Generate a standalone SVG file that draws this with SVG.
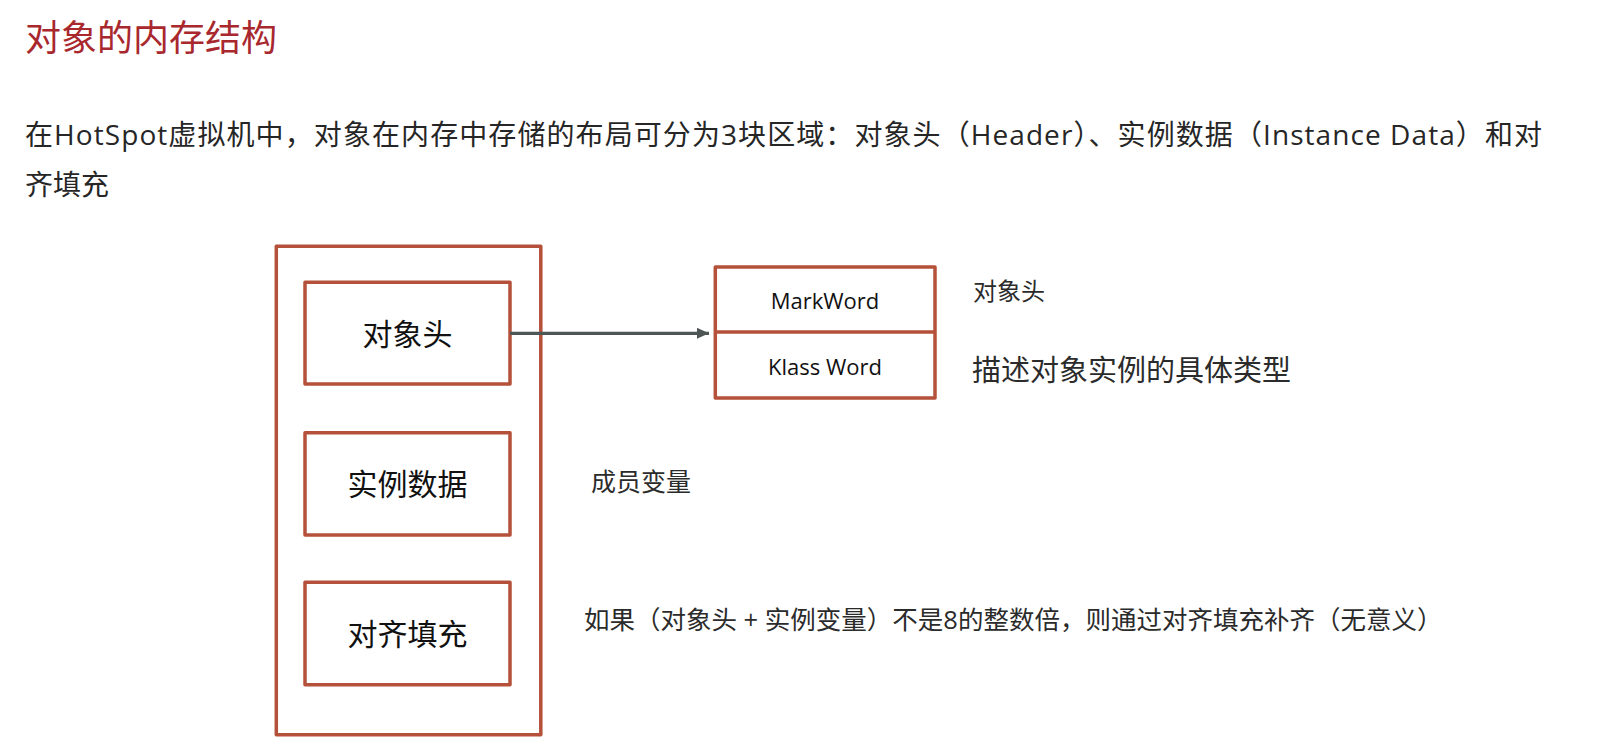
<svg xmlns="http://www.w3.org/2000/svg" width="1603" height="747" viewBox="0 0 1603 747">
  <defs>
    <style>
      .bg { fill: #ffffff; }
      .box { fill: none; stroke: #b5513a; stroke-width: 3.5; stroke-linejoin: round; }
      .title { font-family: "Open Sans", "Noto Sans CJK SC", sans-serif; font-size: 36px; fill: #a8282e; }
      .body { font-family: "Open Sans", "Noto Sans CJK SC", sans-serif; font-size: 28px; fill: #262626; }
      .node { font-family: "Open Sans", "Noto Sans CJK SC", sans-serif; font-size: 30px; fill: #111111; text-anchor: middle; }
      .word { font-family: "Open Sans", "Noto Sans CJK SC", sans-serif; font-size: 22px; fill: #111111; text-anchor: middle; }
      .note { font-family: "Open Sans", "Noto Sans CJK SC", sans-serif; fill: #2b2b2b; }
      .conn { fill: none; stroke: #4d5555; stroke-width: 3.2; }
    </style>
    <marker id="arrow" viewBox="0 0 12 11" refX="12" refY="5.5" markerUnits="userSpaceOnUse" markerWidth="12" markerHeight="11" orient="auto">
      <path d="M0,0 L12,5.5 L0,11 Z" fill="#4d5555"/>
    </marker>
  </defs>
  <rect class="bg" x="0" y="0" width="1603" height="747"/>

  <g id="heading">
    <text class="title" x="25" y="50.5">对象的内存结构</text>
    <text class="body" x="25" y="145" textLength="1517" lengthAdjust="spacing">在HotSpot虚拟机中，对象在内存中存储的布局可分为3块区域：对象头（Header）、实例数据（Instance Data）和对</text>
    <text class="body" x="25" y="195">齐填充</text>
  </g>

  <g id="object-container">
    <rect class="box" x="276.3" y="246.3" width="264.5" height="488.4"/>
  </g>

  <g id="node-header">
    <rect class="box" x="305" y="282.3" width="205" height="101.7"/>
    <text class="node" x="407.5" y="344.6">对象头</text>
  </g>

  <g id="node-instance-data">
    <rect class="box" x="305" y="432.7" width="205" height="102.3"/>
    <text class="node" x="407.5" y="494.6">实例数据</text>
  </g>

  <g id="node-padding">
    <rect class="box" x="305" y="582.3" width="205" height="102.4"/>
    <text class="node" x="407.5" y="645.2">对齐填充</text>
  </g>

  <g id="node-header-detail">
    <rect class="box" x="715.3" y="267" width="219.7" height="131"/>
    <line class="box" x1="715.3" y1="332" x2="935" y2="332"/>
    <text class="word" x="825" y="309.3">MarkWord</text>
    <text class="word" x="825" y="375">Klass Word</text>
  </g>

  <g id="labels">
    <text class="note" x="973" y="300" font-size="24">对象头</text>
    <text class="note" x="972" y="381" font-size="29">描述对象实例的具体类型</text>
    <text class="note" x="591" y="491" font-size="25">成员变量</text>
    <text class="note" x="584" y="629" font-size="25.5">如果（对象头 + 实例变量）不是8的整数倍，则通过对齐填充补齐（无意义）</text>
  </g>

  <g id="connectors">
    <line class="conn" x1="510" y1="333.3" x2="709" y2="333.3" marker-end="url(#arrow)"/>
  </g>
</svg>
